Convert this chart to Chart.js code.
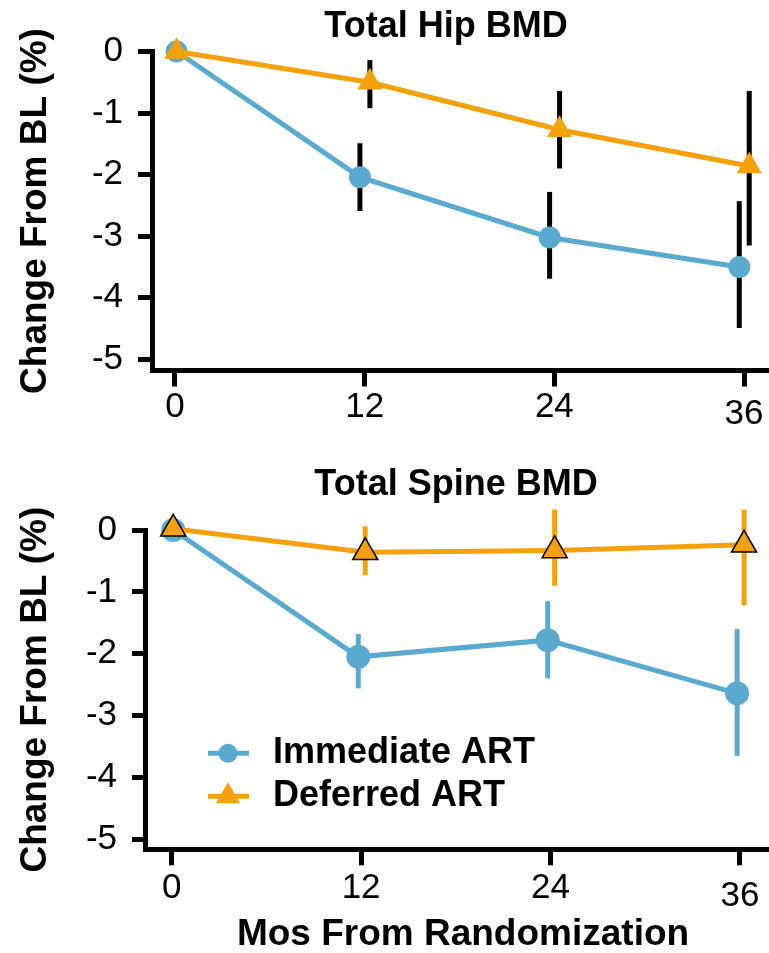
<!DOCTYPE html>
<html>
<head>
<meta charset="utf-8">
<title>BMD change from baseline</title>
<script src="https://cdn.jsdelivr.net/npm/chart.js@4/dist/chart.umd.min.js"></script>
<style>
  html, body { margin: 0; padding: 0; background: #fff; }
  #wrap { position: relative; width: 769px; height: 953px; overflow: hidden; background: #fff; }
  #hip { position: absolute; left: 0; top: 0; }
  #spine { position: absolute; left: 0; top: 450px; }
</style>
</head>
<body>
<div id="wrap">
  <canvas id="hip" width="892" height="440"></canvas>
  <canvas id="spine" width="912" height="503"></canvas>
</div>
<script>
// ---- data ----
const months = [0, 12, 24, 36];
const monthTicks = [0, 12, 24, 36];
const pctTicks = [0, -1, -2, -3, -4, -5];
const seriesNames = ['Immediate ART', 'Deferred ART'];

// Total hip BMD, % change from baseline: mean with lower / upper limits
const hipImmediate     = [0, -2.04, -3.02, -3.50];
const hipImmediateLow  = [null, -2.59, -3.69, -4.49];
const hipImmediateHigh = [null, -1.49, -2.28, -2.43];
const hipDeferred      = [0, -0.50, -1.27, -1.86];
const hipDeferredLow   = [null, -0.92, -1.90, -3.15];
const hipDeferredHigh  = [null, -0.14, -0.64, -0.64];

// Total spine BMD, % change from baseline
const spineImmediate     = [0, -2.05, -1.78, -2.64];
const spineImmediateLow  = [null, -2.56, -2.40, -3.65];
const spineImmediateHigh = [null, -1.68, -1.15, -1.60];
const spineDeferred      = [0.02, -0.36, -0.33, -0.24];
const spineDeferredLow   = [null, -0.73, -0.90, -1.22];
const spineDeferredHigh  = [null, 0.06, 0.33, 0.33];

// ---- styling ----
const BLUE = '#5AAAD0';
const ORANGE = '#F4A10C';
const FAMILY = "'Liberation Sans', Arial, Helvetica, sans-serif";
const TICK_SIZE = 35;

Chart.defaults.font.family = FAMILY;
Chart.defaults.color = '#000';

// small horizontal dodge so the two groups do not sit on top of each other
function points(values, shift) {
  return values.map((v, i) => ({ x: months[i] === 0 ? 0.1 : months[i] + shift, y: v }));
}

// vertical interval bars, drawn underneath the markers
const intervalBars = {
  id: 'intervalBars',
  beforeDatasetsDraw(chart) {
    const { ctx, scales: { x, y } } = chart;
    chart.data.datasets.forEach(ds => {
      if (!ds.low) return;
      ctx.save();
      ctx.strokeStyle = ds.barColor;
      ctx.lineWidth = 5;
      ctx.lineCap = 'butt';
      ds.data.forEach((p, j) => {
        if (ds.low[j] == null) return;
        const px = x.getPixelForValue(p.x);
        ctx.beginPath();
        ctx.moveTo(px, y.getPixelForValue(ds.high[j]));
        ctx.lineTo(px, y.getPixelForValue(ds.low[j]));
        ctx.stroke();
      });
      ctx.restore();
    });
  }
};

// legend drawn inside the plot area: line segment + marker + bold label
const insetLegend = {
  id: 'insetLegend',
  afterDraw(chart) {
    const { ctx, chartArea } = chart;
    const x0 = chartArea.left + 63;
    const rows = [chartArea.bottom - 96, chartArea.bottom - 53];
    chart.data.datasets.forEach((ds, i) => {
      const y = rows[i];
      const cx = x0 + 20;
      ctx.save();
      ctx.strokeStyle = ds.borderColor;
      ctx.lineWidth = ds.borderWidth;
      ctx.beginPath();
      ctx.moveTo(x0, y);
      ctx.lineTo(x0 + 41, y);
      ctx.stroke();
      ctx.fillStyle = ds.pointBackgroundColor;
      ctx.beginPath();
      if (ds.pointStyle === 'triangle') {
        const r = 14;
        ctx.moveTo(cx, y - r);
        ctx.lineTo(cx + r * Math.sqrt(3) / 2, y + r / 2);
        ctx.lineTo(cx - r * Math.sqrt(3) / 2, y + r / 2);
        ctx.closePath();
      } else {
        ctx.arc(cx, y, 9.5, 0, Math.PI * 2);
      }
      ctx.fill();
      ctx.fillStyle = '#000';
      ctx.font = 'bold 36px ' + FAMILY;
      ctx.textAlign = 'left';
      ctx.textBaseline = 'middle';
      ctx.fillText(ds.label, x0 + 65, y);
      ctx.restore();
    });
  }
};

function panel(canvasId, cfg) {
  const datasets = [
    {
      label: seriesNames[0],
      data: points(cfg.immediate, cfg.shiftImmediate),
      low: cfg.immediateLow, high: cfg.immediateHigh,
      barColor: cfg.barColors[0],
      borderColor: BLUE, backgroundColor: BLUE, borderWidth: 5,
      pointStyle: 'circle', pointRadius: cfg.circleRadius,
      pointBackgroundColor: BLUE, pointBorderWidth: 0,
      tension: 0, clip: false, order: 2
    },
    {
      label: seriesNames[1],
      data: points(cfg.deferred, cfg.shiftDeferred),
      low: cfg.deferredLow, high: cfg.deferredHigh,
      barColor: cfg.barColors[1],
      borderColor: ORANGE, backgroundColor: ORANGE, borderWidth: 5,
      pointStyle: 'triangle', pointRadius: 14.5,
      pointBackgroundColor: ORANGE,
      pointBorderColor: cfg.triangleEdge ? '#000' : ORANGE,
      pointBorderWidth: cfg.triangleEdge ? 1.5 : 0,
      tension: 0, clip: false, order: 1
    }
  ];

  return new Chart(document.getElementById(canvasId), {
    type: 'line',
    data: { datasets },
    plugins: cfg.plugins,
    options: {
      responsive: false,
      animation: false,
      devicePixelRatio: 1,
      events: [],
      layout: { padding: 0 },
      plugins: {
        legend: { display: false },
        tooltip: { enabled: false },
        title: {
          display: true,
          text: cfg.title,
          color: '#000',
          font: { size: 36, weight: 'bold', lineHeight: 1.2 },
          padding: cfg.titlePadding
        }
      },
      scales: {
        x: {
          type: 'linear',
          min: cfg.xMin, max: cfg.xMax,
          afterBuildTicks: s => { s.ticks = monthTicks.map(v => ({ value: v })); },
          afterFit: s => { s.height = cfg.xHeight; },
          border: { display: true, width: 5, color: '#000' },
          grid: { display: true, drawOnChartArea: false, drawTicks: true, tickLength: 16, lineWidth: 5, color: '#000' },
          ticks: {
            color: '#000', padding: cfg.xTickPadding, maxRotation: 0, minRotation: 0, autoSkip: false,
            // the last month label sits a little lower than the others
            font: c => ({ size: TICK_SIZE, lineHeight: c.index === monthTicks.length - 1 ? (TICK_SIZE + 15) / TICK_SIZE : 1 })
          },
          title: cfg.xTitle
            ? { display: true, text: cfg.xTitle, color: '#000', font: { size: 37, weight: 'bold', lineHeight: 1 }, padding: { top: 0, bottom: 0 } }
            : { display: false }
        },
        y: {
          type: 'linear',
          min: cfg.yMin, max: 0,
          afterBuildTicks: s => { s.ticks = pctTicks.map(v => ({ value: v })); },
          afterFit: s => { s.width = cfg.yWidth; },
          border: { display: true, width: 5, color: '#000' },
          grid: { display: true, drawOnChartArea: false, drawTicks: true, tickLength: cfg.yTickLength, lineWidth: 5, color: '#000' },
          ticks: { color: '#000', padding: cfg.yTickPadding, font: { size: TICK_SIZE, lineHeight: 1.2 } },
          title: {
            display: true, text: 'Change From BL (%)', color: '#000',
            font: { size: 37, weight: 'bold', lineHeight: 1.2 },
            padding: { top: 14, bottom: 0 }
          }
        },
        // empty right-hand gutter; the axis line runs on past the visible edge
        gutter: {
          type: 'linear', axis: 'y', position: 'right', display: true,
          grid: { display: false }, border: { display: false }, ticks: { display: false },
          afterFit: s => { s.width = cfg.gutter; }
        }
      }
    }
  });
}

panel('hip', {
  title: 'Total Hip BMD',
  immediate: hipImmediate, immediateLow: hipImmediateLow, immediateHigh: hipImmediateHigh,
  deferred: hipDeferred, deferredLow: hipDeferredLow, deferredHigh: hipDeferredHigh,
  shiftImmediate: -0.3, shiftDeferred: 0.33,
  barColors: ['#000', '#000'],
  circleRadius: 11,
  triangleEdge: false,
  gutter: 111,
  titlePadding: { top: 5.9, bottom: 2.4 },
  xMin: -1.455, xMax: 38.34, xHeight: 69.5, xTickPadding: 3,
  yMin: -5.18, yWidth: 152, yTickLength: 14, yTickPadding: 15,
  plugins: [intervalBars]
});

panel('spine', {
  title: 'Total Spine BMD',
  immediate: spineImmediate, immediateLow: spineImmediateLow, immediateHigh: spineImmediateHigh,
  deferred: spineDeferred, deferredLow: spineDeferredLow, deferredHigh: spineDeferredHigh,
  shiftImmediate: -0.18, shiftDeferred: 0.26,
  barColors: [BLUE, ORANGE],
  circleRadius: 12,
  triangleEdge: true,
  gutter: 131,
  titlePadding: { top: 13.4, bottom: 23.4 },
  xMin: -1.69, xMax: 38.6, xHeight: 103.7, xTickPadding: 6,
  xTitle: 'Mos From Randomization',
  yMin: -5.16, yWidth: 145, yTickLength: 13, yTickPadding: 15,
  plugins: [intervalBars, insetLegend]
});
</script>
</body>
</html>
